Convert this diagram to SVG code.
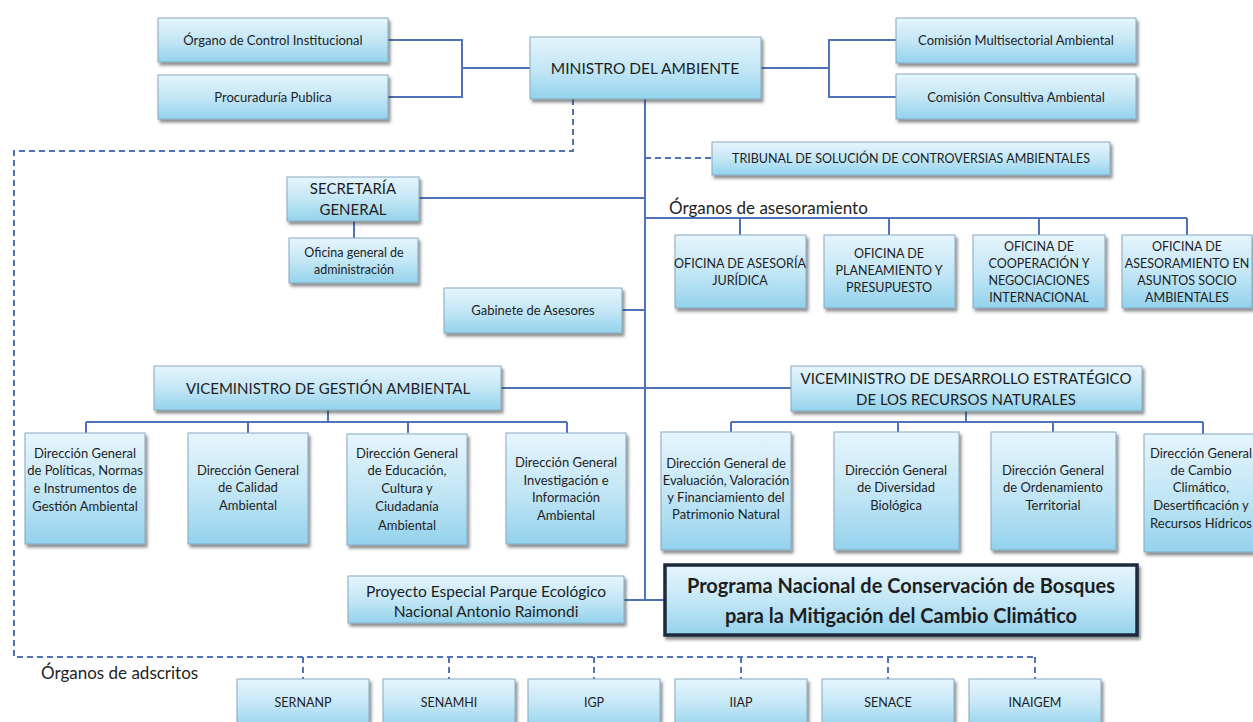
<svg xmlns="http://www.w3.org/2000/svg" width="1253" height="722" viewBox="0 0 1253 722">
<defs>
<linearGradient id="bg" x1="0" y1="0" x2="0" y2="1">
<stop offset="0" stop-color="#e6f5fc"/>
<stop offset="0.55" stop-color="#c0e5f5"/>
<stop offset="1" stop-color="#93d2ec"/>
</linearGradient>
<filter id="sh" x="-10%" y="-10%" width="125%" height="135%">
<feDropShadow dx="2" dy="3" stdDeviation="1.6" flood-color="#333" flood-opacity="0.55"/>
</filter>
<style>
.b{fill:url(#bg);stroke:#86aac0;stroke-width:1;filter:url(#sh)}
.pb{fill:url(#bg);stroke:#1c2b3f;stroke-width:3.5;filter:url(#sh)}
text{font-family:Lato,"Liberation Sans",sans-serif;fill:#1e1e1e;text-anchor:middle;dominant-baseline:central}
.t13{font-size:13px}
.t12{font-size:12.5px}
.tu{font-size:12.5px}
.t16{font-size:15px}
.t15{font-size:15.5px}
.tb{font-size:20px;font-weight:bold}
.lbl{font-size:17px;text-anchor:start}
.c{fill:none;stroke:#4f72b8;stroke-width:2}
.d{fill:none;stroke:#4f72b8;stroke-width:2;stroke-dasharray:6 4}
</style>
</defs>
<rect width="1253" height="722" fill="#ffffff"/>
<g id="connectors">
<path class="c" d="M388 40H462V97H388M462 68H530"/>
<path class="c" d="M761 68H829M896 40H829V97H896"/>
<path class="c" d="M645 99V600"/>
<path class="c" d="M419 198H645"/>
<path class="c" d="M354 221V238"/>
<path class="c" d="M645 218H1187M740 218V235M889 218V235M1039 218V235M1187 218V235"/>
<path class="c" d="M622 310H645"/>
<path class="c" d="M501 388H791"/>
<path class="c" d="M328 410V422M86 422H567M86 422V433M248 422V433M408 422V433M567 422V433"/>
<path class="c" d="M966 411V422M731 422H1203M731 422V432M898 422V432M1053 422V432M1203 422V434"/>
<path class="c" d="M624 600H665"/>
<path class="d" d="M573 99V151H14V657H1035"/>
<path class="d" d="M303 657V679M449 657V679M594 657V679M741 657V679M888 657V679M1035 657V679"/>
<path class="d" d="M645 158H712"/>
</g>
<g id="organo"><rect class="b" x="158" y="18" width="230" height="44"/><text class="t13" x="273" y="40">Órgano de Control Institucional</text></g>
<g id="procuraduria"><rect class="b" x="158" y="75" width="230" height="44"/><text class="t13" x="273" y="97">Procuraduría Publica</text></g>
<g id="ministro"><rect class="b" x="530" y="37" width="231" height="62"/><text class="t15" x="645" y="68">MINISTRO DEL AMBIENTE</text></g>
<g id="comision-multisectorial"><rect class="b" x="896" y="18" width="240" height="45"/><text class="t13" x="1016" y="40">Comisión Multisectorial Ambiental</text></g>
<g id="comision-consultiva"><rect class="b" x="896" y="74" width="240" height="45"/><text class="t13" x="1016" y="97">Comisión Consultiva Ambiental</text></g>
<g id="tribunal"><rect class="b" x="712" y="142" width="398" height="33"/><text class="tu" x="911" y="158">TRIBUNAL DE SOLUCIÓN DE CONTROVERSIAS AMBIENTALES</text></g>
<g id="secretaria"><rect class="b" x="287" y="177" width="132" height="44"/><text class="t16" x="353" y="188">SECRETARÍA</text><text class="t16" x="353" y="209">GENERAL</text></g>
<g id="oficina-administracion"><rect class="b" x="289" y="238" width="129" height="45"/><text class="t12" x="354" y="252">Oficina general de</text><text class="t12" x="354" y="269">administración</text></g>
<g id="gabinete"><rect class="b" x="444" y="288" width="178" height="45"/><text class="t13" x="533" y="310">Gabinete de Asesores</text></g>
<g id="label-asesoramiento"><text class="lbl" x="669" y="207">Órganos de asesoramiento</text></g>
<g id="of-juridica"><rect class="b" x="675" y="235" width="131" height="73"/><text class="t12" x="740" y="263">OFICINA DE ASESORÍA</text><text class="t12" x="740" y="280">JURÍDICA</text></g>
<g id="of-planeamiento"><rect class="b" x="824" y="235" width="131" height="73"/><text class="t12" x="889" y="253">OFICINA DE</text><text class="t12" x="889" y="270">PLANEAMIENTO Y</text><text class="t12" x="889" y="287">PRESUPUESTO</text></g>
<g id="of-cooperacion"><rect class="b" x="973" y="235" width="132" height="73"/><text class="t12" x="1039" y="246">OFICINA DE</text><text class="t12" x="1039" y="263">COOPERACIÓN Y</text><text class="t12" x="1039" y="280">NEGOCIACIONES</text><text class="t12" x="1039" y="297">INTERNACIONAL</text></g>
<g id="of-socioambientales"><rect class="b" x="1122" y="235" width="130" height="73"/><text class="t12" x="1187" y="246">OFICINA DE</text><text class="t12" x="1187" y="263">ASESORAMIENTO EN</text><text class="t12" x="1187" y="280">ASUNTOS SOCIO</text><text class="t12" x="1187" y="297">AMBIENTALES</text></g>
<g id="vm-gestion"><rect class="b" x="154" y="366" width="347" height="44"/><text class="t16" x="328" y="388">VICEMINISTRO DE GESTIÓN AMBIENTAL</text></g>
<g id="vm-desarrollo"><rect class="b" x="791" y="366" width="351" height="45"/><text class="t16" x="966" y="378">VICEMINISTRO DE DESARROLLO ESTRATÉGICO</text><text class="t16" x="966" y="399">DE LOS RECURSOS NATURALES</text></g>
<g id="dg-politicas"><rect class="b" x="25" y="433" width="120" height="111"/><text class="t13" x="85" y="453">Dirección General</text><text class="t13" x="85" y="470">de Políticas, Normas</text><text class="t13" x="85" y="488">e Instrumentos de</text><text class="t13" x="85" y="506">Gestión Ambiental</text></g>
<g id="dg-calidad"><rect class="b" x="188" y="433" width="120" height="111"/><text class="t13" x="248" y="470">Dirección General</text><text class="t13" x="248" y="487">de Calidad</text><text class="t13" x="248" y="505">Ambiental</text></g>
<g id="dg-educacion"><rect class="b" x="347" y="434" width="120" height="111"/><text class="t13" x="407" y="453">Dirección General</text><text class="t13" x="407" y="470">de Educación,</text><text class="t13" x="407" y="488">Cultura y</text><text class="t13" x="407" y="506">Ciudadanía</text><text class="t13" x="407" y="525">Ambiental</text></g>
<g id="dg-investigacion"><rect class="b" x="506" y="433" width="120" height="111"/><text class="t13" x="566" y="462">Dirección General</text><text class="t13" x="566" y="480">Investigación e</text><text class="t13" x="566" y="497">Información</text><text class="t13" x="566" y="515">Ambiental</text></g>
<g id="dg-evaluacion"><rect class="b" x="661" y="432" width="130" height="118"/><text class="t13" x="726" y="463">Dirección General de</text><text class="t13" x="726" y="480">Evaluación, Valoración</text><text class="t13" x="726" y="497">y Financiamiento del</text><text class="t13" x="726" y="514">Patrimonio Natural</text></g>
<g id="dg-diversidad"><rect class="b" x="834" y="432" width="125" height="118"/><text class="t13" x="896" y="470">Dirección General</text><text class="t13" x="896" y="487">de Diversidad</text><text class="t13" x="896" y="505">Biológica</text></g>
<g id="dg-ordenamiento"><rect class="b" x="991" y="432" width="125" height="118"/><text class="t13" x="1053" y="470">Dirección General</text><text class="t13" x="1053" y="487">de Ordenamiento</text><text class="t13" x="1053" y="505">Territorial</text></g>
<g id="dg-cambio"><rect class="b" x="1144" y="434" width="115" height="118"/><text class="t13" x="1201" y="453">Dirección General</text><text class="t13" x="1201" y="470">de Cambio</text><text class="t13" x="1201" y="487">Climático,</text><text class="t13" x="1201" y="505">Desertificación y</text><text class="t13" x="1201" y="523">Recursos Hídricos</text></g>
<g id="proyecto"><rect class="b" x="348" y="576" width="276" height="47"/><text class="t15" x="486" y="591">Proyecto Especial Parque Ecológico</text><text class="t15" x="486" y="611">Nacional Antonio Raimondi</text></g>
<g id="programa"><rect class="pb" x="665" y="565" width="472" height="70"/><text class="tb" x="901" y="585">Programa Nacional  de Conservación de Bosques</text><text class="tb" x="901" y="615">para la Mitigación del Cambio Climático</text></g>
<g id="label-adscritos"><text class="lbl" x="41" y="672">Órganos de adscritos</text></g>
<g id="sernanp"><rect class="b" x="237" y="679" width="132" height="50"/><text class="t12" x="303" y="702">SERNANP</text></g>
<g id="senamhi"><rect class="b" x="383" y="679" width="132" height="50"/><text class="t12" x="449" y="702">SENAMHI</text></g>
<g id="igp"><rect class="b" x="528" y="679" width="132" height="50"/><text class="t12" x="594" y="702">IGP</text></g>
<g id="iiap"><rect class="b" x="675" y="679" width="132" height="50"/><text class="t12" x="741" y="702">IIAP</text></g>
<g id="senace"><rect class="b" x="822" y="679" width="132" height="50"/><text class="t12" x="888" y="702">SENACE</text></g>
<g id="inaigem"><rect class="b" x="969" y="679" width="132" height="50"/><text class="t12" x="1035" y="702">INAIGEM</text></g>
</svg>
